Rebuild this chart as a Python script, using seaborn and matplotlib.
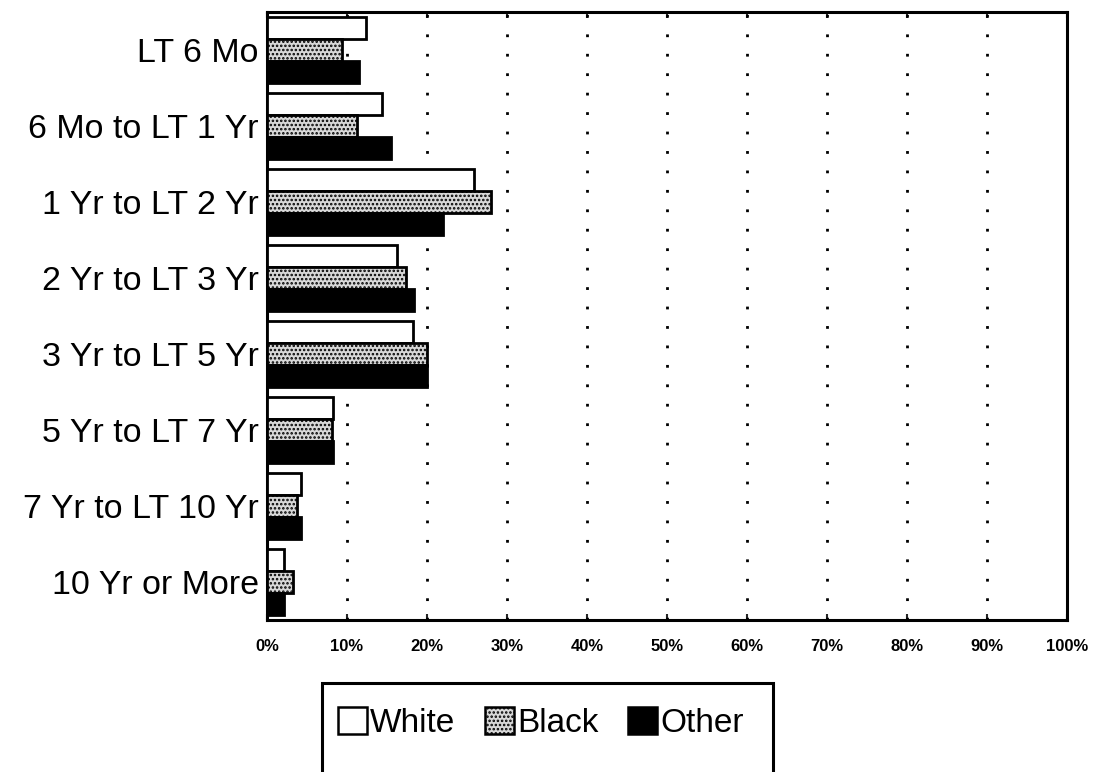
import matplotlib
matplotlib.use("Agg")
import matplotlib.pyplot as plt
import seaborn as sns
import pandas as pd
from matplotlib.patches import Patch, Rectangle

categories = ["LT 6 Mo", "6 Mo to LT 1 Yr", "1 Yr to LT 2 Yr", "2 Yr to LT 3 Yr",
              "3 Yr to LT 5 Yr", "5 Yr to LT 7 Yr", "7 Yr to LT 10 Yr", "10 Yr or More"]
white = [12.4, 14.4, 25.9, 16.2, 18.3, 8.2, 4.3, 2.1]
black = [9.4, 11.3, 28.0, 17.4, 20.0, 8.1, 3.8, 3.3]
other = [11.5, 15.5, 22.0, 18.4, 20.0, 8.3, 4.3, 2.1]
groups = ["White", "Black", "Other"]
xticks = [0, 10, 20, 30, 40, 50, 60, 70, 80, 90, 100]

rows = []
for g, vals in zip(groups, [white, black, other]):
    for c, v in zip(categories, vals):
        rows.append({"cat": c, "grp": g, "val": v})
df = pd.DataFrame(rows)

sns.set_style("white")
plt.rcParams["font.family"] = ["Liberation Sans", "DejaVu Sans"]
plt.rcParams["hatch.linewidth"] = 1.2
plt.rcParams["text.color"] = "black"

W, H = 1102, 772
fig = plt.figure(figsize=(W / 100, H / 100), dpi=100)
ax = fig.add_axes([267 / W, 1 - 620 / H, 800 / W, 608 / H])

pal = {"White": "white", "Black": "#d8d8d8", "Other": "black"}
sns.barplot(data=df, y="cat", x="val", hue="grp", order=categories, hue_order=groups,
            palette=pal, orient="h", width=0.88, edgecolor="black", linewidth=2,
            ax=ax, legend=False, zorder=3)
for bar in ax.containers[1]:
    bar.set_hatch("....")

ax.set_xlim(0, 100)
ax.set_ylim(len(categories) - 0.5, -0.5)
ax.set_xticks(xticks)
ax.set_xticklabels([f"{t}%" for t in xticks], fontsize=12, fontweight="bold")
ax.tick_params(axis="x", which="both", direction="in", top=True, bottom=True,
               length=4, width=1.5, pad=14, labelcolor="black")
ax.tick_params(axis="y", length=0, pad=6, labelsize=24.5, labelcolor="black")
for t in xticks[1:-1]:
    ax.axvline(t, color="black", linestyle=(0, (1, 6)), linewidth=2, zorder=1)
for s in ax.spines.values():
    s.set_visible(True)
    s.set_color("black")
    s.set_linewidth(2.2)
ax.set_xlabel("")
ax.set_ylabel("")

# legend frame (extends past the bottom edge as in the reference)
fig.add_artist(Rectangle((322 / W, -0.05), (773 - 322) / W, 0.05 + (1 - 683 / H),
                         transform=fig.transFigure, facecolor="white",
                         edgecolor="black", linewidth=2.2, zorder=1))
handles = [Patch(facecolor=pal[g], edgecolor="black", linewidth=1.8,
                 hatch="...." if g == "Black" else None) for g in groups]
leg = fig.legend(handles, groups, loc="center", bbox_to_anchor=(541 / W, 1 - 723 / H),
                 ncol=3, fontsize=24, frameon=False,
                 handlelength=0.85, handleheight=0.85, handletextpad=0.1,
                 columnspacing=0.9, borderpad=0, borderaxespad=0)
leg.set_zorder(2)

fig.savefig("out.png", dpi=100, facecolor="white")
